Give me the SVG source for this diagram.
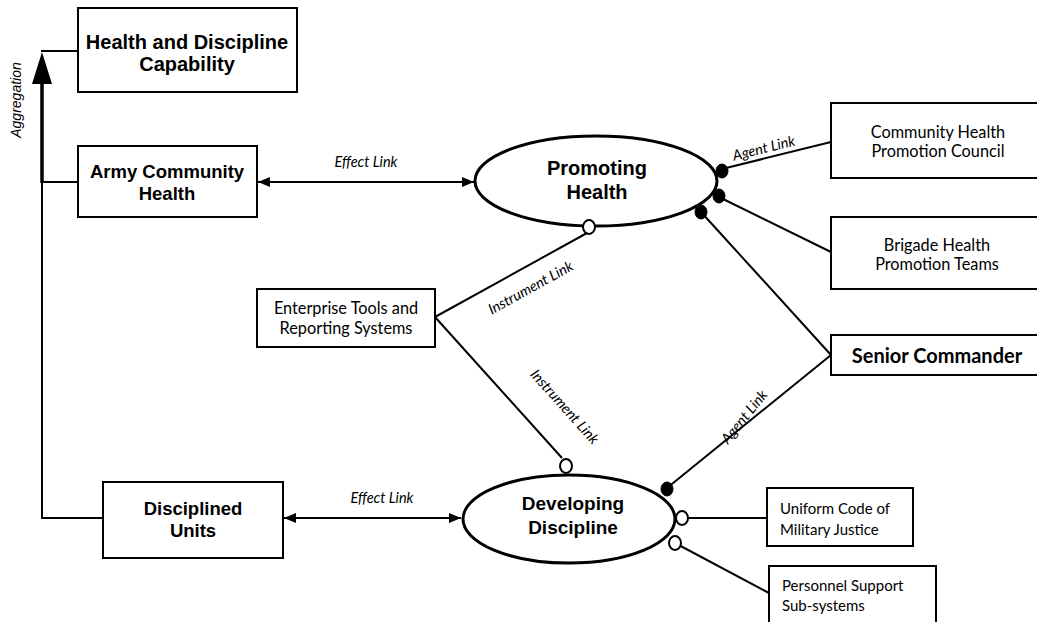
<svg xmlns="http://www.w3.org/2000/svg" width="1037" height="622" viewBox="0 0 1037 622">
  <style>
    .box { fill: #fff; stroke: #000; stroke-width: 2; }
    .oval { fill: #fff; stroke: #000; stroke-width: 3; }
    .ln { fill: none; stroke: #000; stroke-width: 2; }
    .bold { font-family: "Liberation Sans", Arial, sans-serif; font-weight: bold; fill: #000; text-anchor: middle; }
    .plain { font-family: Lato, "Open Sans", sans-serif; font-size: 16.3px; fill: #000; }
    .small { font-size: 15px; }
    .mid { text-anchor: middle; }
    .lbl { font-family: Lato, "Open Sans", sans-serif; font-style: italic; font-size: 14.5px; fill: #000; text-anchor: middle; }
    .agg { font-family: "Liberation Sans", Arial, sans-serif; font-style: italic; font-size: 14px; fill: #000; text-anchor: middle; }
    .open { fill: #fff; stroke: #000; stroke-width: 2; }
    .solid { fill: #000; stroke: #000; stroke-width: 1; }
  </style>
  <defs>
    <marker id="arrow" viewBox="0 0 12 10" refX="12" refY="5" markerWidth="12" markerHeight="10" markerUnits="userSpaceOnUse" orient="auto-start-reverse">
      <path d="M0,0 L12,5 L0,10 Z" fill="#000"/>
    </marker>
  </defs>
  <rect width="1037" height="622" fill="#fff"/>

  <!-- connectors -->
  <g id="connectors">
    <!-- aggregation spine -->
    <path class="ln" d="M42,518 L42,182"/>
    <path fill="none" stroke="#000" stroke-width="3.5" d="M42,183 L42,80"/>
    <polygon points="42,52 32,84 52,84" fill="#000"/>
    <path class="ln" d="M41,51 L78,51"/>
    <path class="ln" d="M42,182 L78,182"/>
    <path class="ln" d="M41,518 L103,518"/>
    <text class="agg" transform="translate(21,100) rotate(-90)">Aggregation</text>

    <!-- effect links -->
    <path class="ln" d="M258,182 L474,182" marker-start="url(#arrow)" marker-end="url(#arrow)"/>
    <text class="lbl" x="366" y="167">Effect Link</text>
    <path class="ln" d="M284,518 L461,518" marker-start="url(#arrow)" marker-end="url(#arrow)"/>
    <text class="lbl" x="382" y="503">Effect Link</text>

    <!-- instrument links -->
    <path class="ln" d="M435,317 L587,233"/>
    <text class="lbl" transform="translate(533,292) rotate(-29)">Instrument Link</text>
    <path class="ln" d="M435,317 L562,458"/>
    <text class="lbl" transform="translate(561,410) rotate(48)">Instrument Link</text>

    <!-- agent links -->
    <path class="ln" d="M722,169 L831,142"/>
    <text class="lbl" transform="translate(765,153) rotate(-14)">Agent Link</text>
    <path class="ln" d="M719,197 L831,252"/>
    <path class="ln" d="M701,212 L831,355"/>
    <path class="ln" d="M667,488 L831,355"/>
    <text class="lbl" transform="translate(748,420) rotate(-51)">Agent Link</text>

    <!-- developing discipline instruments -->
    <path class="ln" d="M682,518 L768,518"/>
    <path class="ln" d="M675,543 L769,593"/>
  </g>

  <!-- nodes -->
  <g id="health-discipline-capability">
    <rect class="box" x="78" y="8" width="219" height="84"/>
    <text class="bold" font-size="20" x="187" y="49">Health and Discipline</text>
    <text class="bold" font-size="20" x="187" y="71">Capability</text>
  </g>
  <g id="army-community-health">
    <rect class="box" x="78" y="146" width="179" height="71"/>
    <text class="bold" font-size="18.5" x="167" y="178">Army Community</text>
    <text class="bold" font-size="18.5" x="167" y="200">Health</text>
  </g>
  <g id="disciplined-units">
    <rect class="box" x="103" y="482" width="180" height="76"/>
    <text class="bold" font-size="18.5" x="193" y="515">Disciplined</text>
    <text class="bold" font-size="18.5" x="193" y="537">Units</text>
  </g>
  <g id="promoting-health">
    <ellipse class="oval" cx="596" cy="181" rx="121" ry="45"/>
    <text class="bold" font-size="20" x="597" y="175">Promoting</text>
    <text class="bold" font-size="20" x="597" y="199">Health</text>
    <ellipse class="open" cx="589" cy="227" rx="6" ry="7"/>
    <ellipse class="solid" cx="722" cy="171" rx="6" ry="7"/>
    <ellipse class="solid" cx="719" cy="196" rx="6" ry="7"/>
    <ellipse class="solid" cx="701" cy="212" rx="6" ry="7"/>
  </g>
  <g id="developing-discipline">
    <ellipse class="oval" cx="569" cy="519" rx="106" ry="44"/>
    <text class="bold" font-size="19" x="573" y="510">Developing</text>
    <text class="bold" font-size="19" x="573" y="534">Discipline</text>
    <ellipse class="open" cx="566" cy="466" rx="6" ry="7"/>
    <ellipse class="solid" cx="667" cy="489" rx="6" ry="7"/>
    <ellipse class="open" cx="682" cy="518" rx="6" ry="7"/>
    <ellipse class="open" cx="675" cy="543" rx="6" ry="7"/>
  </g>
  <g id="enterprise-tools">
    <rect class="box" x="257" y="289" width="178" height="58"/>
    <text class="plain mid" x="346" y="314">Enterprise Tools and</text>
    <text class="plain mid" x="346" y="334">Reporting Systems</text>
  </g>
  <g id="community-health-council">
    <rect class="box" x="831" y="103" width="215" height="75"/>
    <text class="plain mid" x="938" y="138">Community Health</text>
    <text class="plain mid" x="938" y="157">Promotion Council</text>
  </g>
  <g id="brigade-health-teams">
    <rect class="box" x="831" y="217" width="215" height="72"/>
    <text class="plain mid" x="937" y="251">Brigade Health</text>
    <text class="plain mid" x="937" y="270">Promotion Teams</text>
  </g>
  <g id="senior-commander">
    <rect class="box" x="831" y="335" width="215" height="40"/>
    <text font-family="Lato, 'Open Sans', sans-serif" font-weight="bold" font-size="20" text-anchor="middle" x="937" y="363">Senior Commander</text>
  </g>
  <g id="ucmj">
    <rect class="box" x="767" y="488" width="146" height="58"/>
    <text class="plain small" x="780" y="514">Uniform Code of</text>
    <text class="plain small" x="780" y="535">Military Justice</text>
  </g>
  <g id="personnel-support">
    <rect class="box" x="769" y="566" width="167" height="60"/>
    <text class="plain small" x="782" y="591">Personnel Support</text>
    <text class="plain small" x="782" y="611">Sub-systems</text>
  </g>
</svg>
